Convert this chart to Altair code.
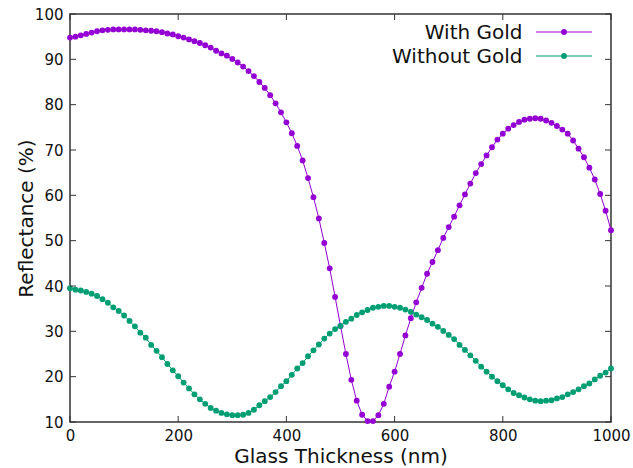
import altair as alt
import pandas as pd

# ---- data ----
thickness = list(range(0, 1001, 10))

with_gold = [
    94.8, 95.0, 95.3, 95.6, 95.9, 96.2, 96.4, 96.5, 96.6, 96.6,
    96.6, 96.6, 96.6, 96.5, 96.4, 96.3, 96.2, 96.0, 95.7, 95.5,
    95.1, 94.8, 94.4, 94.0, 93.6, 93.1, 92.6, 91.9, 91.3, 90.8,
    90.1, 89.3, 88.4, 87.4, 86.3, 85.0, 83.7, 82.1, 80.3, 78.3,
    76.1, 73.7, 70.9, 67.7, 63.8, 59.6, 54.9, 49.5, 43.9, 37.6,
    31.2, 25.0, 19.3, 14.7, 11.6, 10.2, 10.2, 11.5, 14.0, 17.8,
    21.1, 25.0, 29.1, 32.9, 36.4, 39.6, 42.7, 45.3, 47.9, 50.6,
    53.0, 55.3, 57.8, 60.2, 62.6, 64.9, 66.9, 68.8, 70.6, 72.3,
    73.6, 74.7, 75.5, 76.2, 76.7, 76.9, 77.0, 76.9, 76.5, 76.0,
    75.3, 74.5, 73.6, 72.1, 70.3, 68.4, 66.1, 63.5, 60.3, 56.6,
    52.3,
]

without_gold = [
    39.5, 39.2, 39.0, 38.7, 38.3, 37.8, 37.1, 36.3, 35.3, 34.5,
    33.5, 32.3, 31.1, 29.7, 28.6, 27.0, 25.7, 24.3, 22.8, 21.4,
    20.1, 18.7, 17.4, 16.1, 15.0, 14.0, 13.1, 12.5, 12.0, 11.7,
    11.5, 11.5, 11.6, 12.0, 12.7, 13.7, 14.6, 15.5, 16.6, 17.9,
    19.0, 20.4, 21.8, 23.0, 24.5, 25.8, 27.1, 28.4, 29.5, 30.5,
    31.2, 32.1, 32.8, 33.6, 34.2, 34.7, 35.2, 35.4, 35.6, 35.6,
    35.4, 35.2, 34.8, 34.3, 33.7, 33.1, 32.5, 31.7, 31.0, 30.1,
    29.2, 28.3, 27.0, 25.9, 24.7, 23.5, 22.2, 21.1, 20.0, 19.0,
    18.1, 17.2, 16.4, 15.9, 15.4, 15.0, 14.7, 14.6, 14.7, 14.8,
    15.2, 15.5, 16.1, 16.6, 17.2, 17.9, 18.5, 19.4, 20.2, 20.9,
    21.8,
]

series_names = ["With Gold", "Without Gold"]
series_colors = ["#9400D3", "#009E73"]

x_ticks = [0, 200, 400, 600, 800, 1000]
y_ticks = [10, 20, 30, 40, 50, 60, 70, 80, 90, 100]

# ---- layout ----
W, H = 541, 408
FONT = "DejaVu Sans"
FRAME = "#333333"
PT_SIZE = 34

df = pd.concat([
    pd.DataFrame({"nm": thickness, "R": with_gold, "series": series_names[0]}),
    pd.DataFrame({"nm": thickness, "R": without_gold, "series": series_names[1]}),
], ignore_index=True)

x_enc = alt.X(
    "nm:Q",
    scale=alt.Scale(domain=[0, 1000], nice=False, zero=False),
    axis=alt.Axis(
        values=x_ticks, format="d", title="Glass Thickness (nm)", grid=False, ticks=False,
        domain=False, labelFontSize=15, labelFont=FONT, labelColor="#111",
        labelPadding=6, labelFlush=False, labelOverlap=False,
        titleFontSize=20, titleFont=FONT, titleFontWeight="normal", titleColor="#111",
        titleX=W / 2, titleY=40.5, titleBaseline="alphabetic", titleAlign="center",
    ),
)
y_enc = alt.Y(
    "R:Q",
    scale=alt.Scale(domain=[10, 100], nice=False, zero=False),
    axis=alt.Axis(
        values=y_ticks, format="d", title="Reflectance (%)", grid=False, ticks=False,
        domain=False, labelFontSize=15, labelFont=FONT, labelColor="#111",
        labelPadding=7, labelFlush=False, labelOverlap=False,
        titleFontSize=20, titleFont=FONT, titleFontWeight="normal", titleColor="#111",
        titleX=-38, titleY=H / 2, titleAngle=270, titleBaseline="alphabetic",
        titleAlign="center",
    ),
)
color_enc = alt.Color(
    "series:N",
    scale=alt.Scale(domain=series_names, range=series_colors),
    legend=None,
)

layers = []
for name in series_names:
    base = alt.Chart(df).transform_filter(alt.datum.series == name)
    layers.append(base.mark_line(strokeWidth=1).encode(x=x_enc, y=y_enc, color=color_enc))
    layers.append(base.mark_circle(size=PT_SIZE, opacity=1).encode(x=x_enc, y=y_enc, color=color_enc))

# inward ticks on all four sides
xt = pd.DataFrame({"nm": x_ticks})
yt = pd.DataFrame({"R": y_ticks})
TL = 6
layers.append(alt.Chart(xt).mark_rule(color=FRAME, strokeWidth=1).encode(
    x=x_enc, y=alt.value(H), y2=alt.value(H - TL)))
layers.append(alt.Chart(xt).mark_rule(color=FRAME, strokeWidth=1).encode(
    x=x_enc, y=alt.value(0), y2=alt.value(TL)))
layers.append(alt.Chart(yt).mark_rule(color=FRAME, strokeWidth=1).encode(
    y=y_enc, x=alt.value(0), x2=alt.value(TL)))
layers.append(alt.Chart(yt).mark_rule(color=FRAME, strokeWidth=1).encode(
    y=y_enc, x=alt.value(W), x2=alt.value(W - TL)))

# legend (label left of sample, as in the reference)
leg_rows = [18, 42]
for name, col, ry in zip(series_names, series_colors, leg_rows):
    ld = pd.DataFrame({"label": [name]})
    lc = alt.Chart(ld)
    layers.append(lc.mark_text(align="right", baseline="alphabetic", fontSize=20,
                               font=FONT, color="#111").encode(
        text="label:N", x=alt.value(452.5), y=alt.value(ry + 6.8)))
    layers.append(lc.mark_rule(color=col, strokeWidth=1).encode(
        x=alt.value(466), x2=alt.value(522), y=alt.value(ry)))
    layers.append(lc.mark_circle(color=col, size=PT_SIZE, opacity=1).encode(
        x=alt.value(494), y=alt.value(ry)))

chart = alt.layer(*layers).properties(
    width=W, height=H,
    autosize=alt.AutoSizeParams(type="none"),
    padding={"left": 70, "top": 14, "right": 22, "bottom": 46},
    background="white",
).configure_view(stroke=FRAME, strokeWidth=1.5)

chart.save("out.html", embed_options={"renderer": "svg", "actions": False})
